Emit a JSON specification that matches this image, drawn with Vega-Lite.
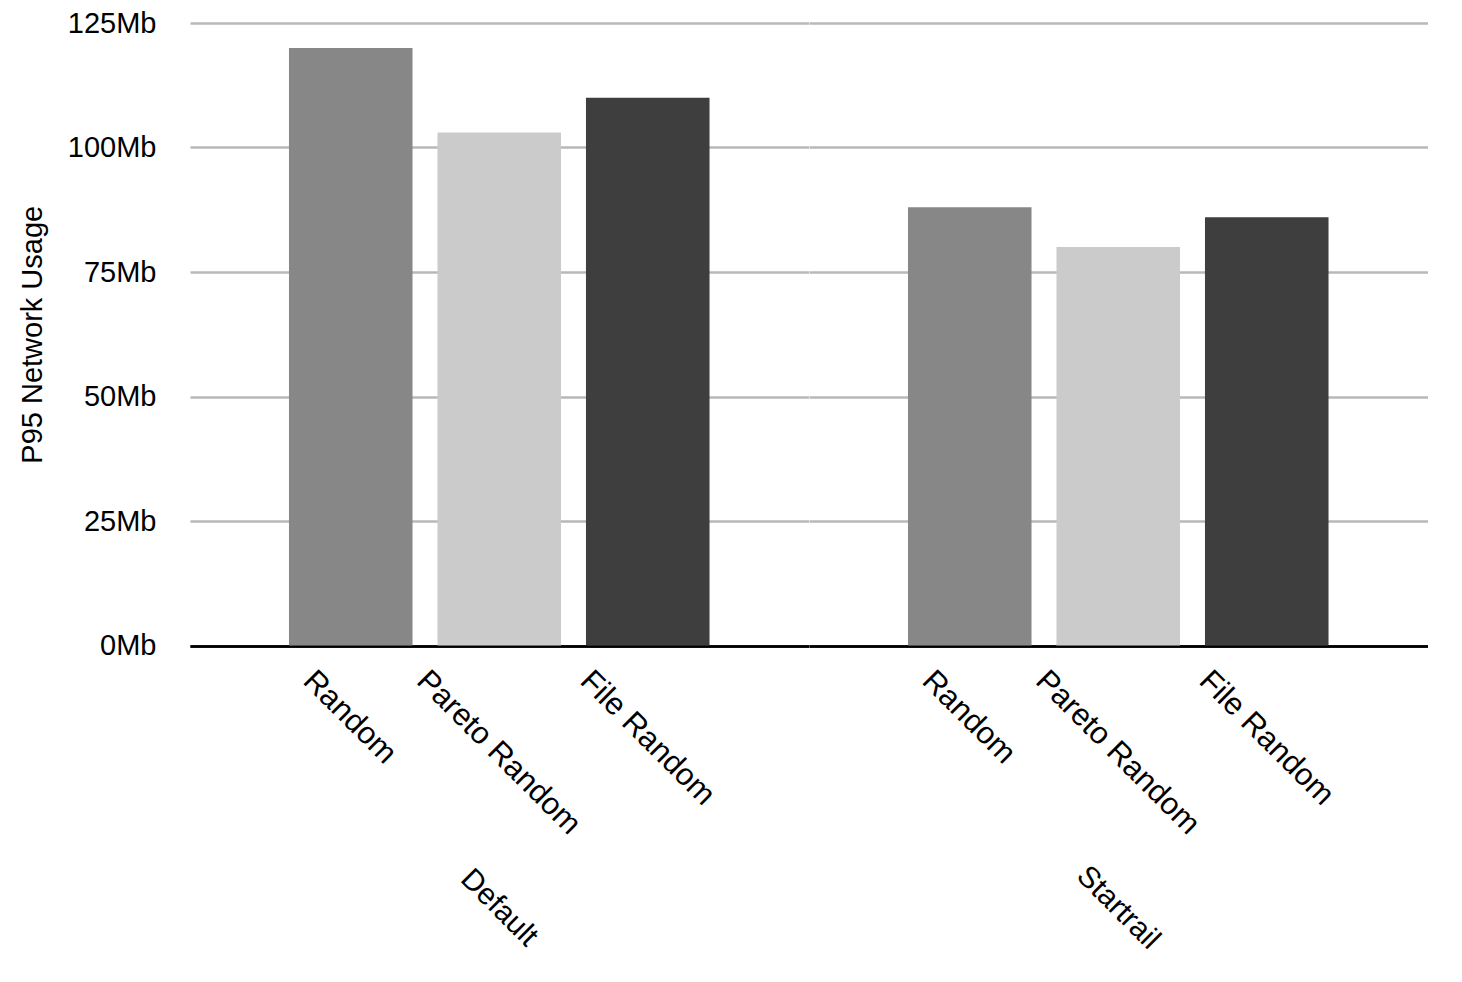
{
  "$schema": "https://vega.github.io/schema/vega-lite/v6.json",
  "background": "white",
  "padding": {"left": 18, "top": 9, "right": 30, "bottom": 10},
  "data": {"values": [
    {"group": "Default", "series": "Random", "value": 120},
    {"group": "Default", "series": "Pareto Random", "value": 103},
    {"group": "Default", "series": "File Random", "value": 110},
    {"group": "Startrail", "series": "Random", "value": 88},
    {"group": "Startrail", "series": "Pareto Random", "value": 80},
    {"group": "Startrail", "series": "File Random", "value": 86}
  ]},
  "spacing": 0,
  "facet": {
    "column": {
      "field": "group",
      "type": "nominal",
      "sort": ["Default", "Startrail"],
      "header": {
        "title": null,
        "labelOrient": "bottom",
        "labelAngle": 45,
        "labelAlign": "center",
        "labelBaseline": "middle",
        "labelFont": "Liberation Sans",
        "labelFontSize": 30,
        "labelColor": "black",
        "labelPadding": 68
      }
    }
  },
  "spec": {
    "width": 618.5,
    "height": 622.5,
    "mark": {"type": "bar"},
    "encoding": {
      "x": {
        "field": "series",
        "type": "nominal",
        "sort": ["Random", "Pareto Random", "File Random"],
        "scale": {"paddingInner": 0.168, "paddingOuter": 0.6665},
        "axis": {
          "title": null,
          "labelAngle": 45,
          "labelAlign": "left",
          "labelBaseline": "top",
          "labelFontSize": 31,
          "labelPadding": 19,
          "labelOffset": {
            "condition": [
              {"test": "datum.value === 'Random'", "value": -32},
              {"test": "datum.value === 'Pareto Random'", "value": -67}
            ],
            "value": -52
          },
          "ticks": false,
          "tickSize": 0,
          "domain": true,
          "domainColor": "black",
          "domainWidth": 2.5,
          "labelLimit": 0,
          "labelOverlap": false
        }
      },
      "y": {
        "field": "value",
        "type": "quantitative",
        "scale": {"domain": [0, 125], "nice": false},
        "axis": {
          "title": "P95 Network Usage",
          "values": [0, 25, 50, 75, 100, 125],
          "labelExpr": "datum.value + 'Mb'",
          "domain": false,
          "ticks": false,
          "tickSize": 0,
          "labelPadding": 34,
          "titlePadding": 20,
          "grid": true,
          "gridColor": {
            "condition": {"test": "datum.value === 0", "value": "black"},
            "value": "#b8b8b8"
          },
          "gridWidth": {
            "condition": {"test": "datum.value === 0", "value": 2.5},
            "value": 2.3
          }
        }
      },
      "color": {
        "field": "series",
        "type": "nominal",
        "scale": {
          "domain": ["Random", "Pareto Random", "File Random"],
          "range": ["#878787", "#cbcbcb", "#3e3e3e"]
        },
        "legend": null
      }
    }
  },
  "config": {
    "view": {"stroke": null},
    "axis": {
      "labelFont": "Liberation Sans",
      "labelFontSize": 29,
      "labelColor": "black",
      "titleFont": "Liberation Sans",
      "titleFontSize": 29,
      "titleFontWeight": "normal",
      "titleColor": "black"
    }
  }
}
